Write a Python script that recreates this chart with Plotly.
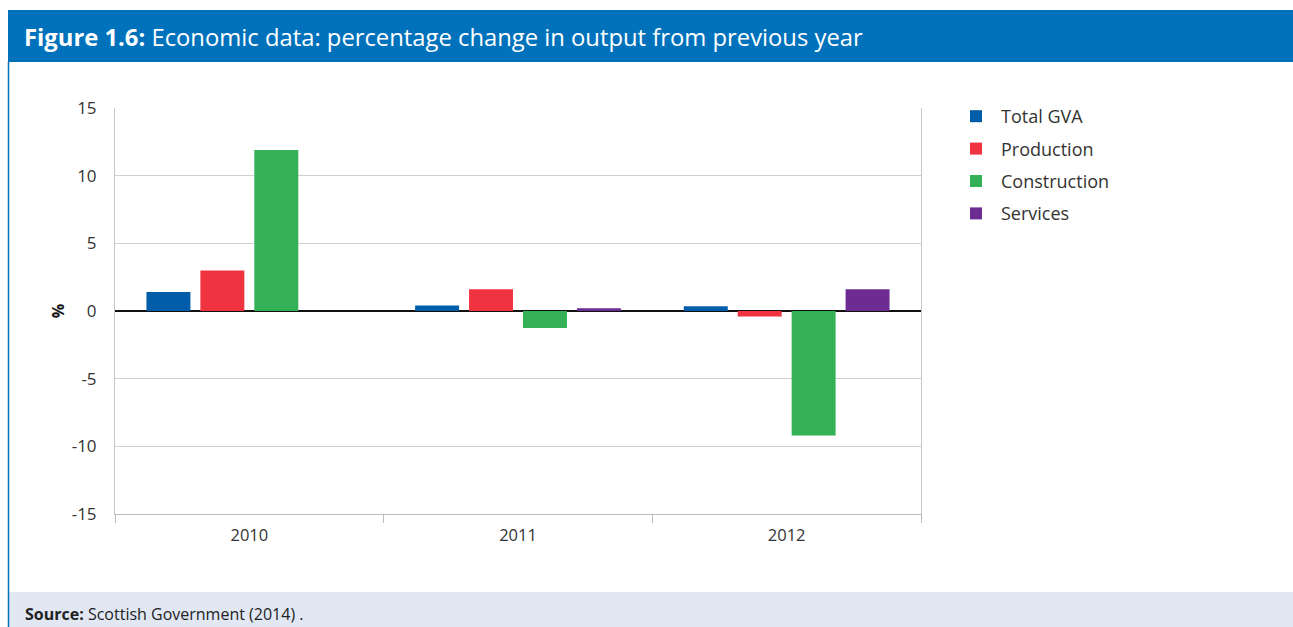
import plotly.graph_objects as go

years = ['2010', '2011', '2012']
series = ['Total GVA', 'Production', 'Construction', 'Services']
total_gva = [1.4, 0.4, 0.35]
production = [3.0, 1.6, -0.4]
construction = [11.9, -1.25, -9.2]
services = [None, 0.2, 1.6]
colours = ['#005DAA', '#EF3340', '#34B157', '#6C2C91']
y_ticks = [-15, -10, -5, 0, 5, 10, 15]
y_labels = ['-15', '-10', '-5', '0', '5', '10', '15']

W, H = 1293, 627
L, R, T, B = 115, 921, 108, 514


# pixel -> paper coords (so the frame can sit outside the plot area)
def px(x):
    return (x - L) / (R - L)


def py(y):
    return (B - y) / (B - T)


fig = go.Figure()
for name, vals, col in zip(series, [total_gva, production, construction, services], colours):
    fig.add_trace(go.Bar(x=years, y=vals, name=name, legendgroup=name,
                         marker=dict(color=col, line=dict(width=0))))

shapes = [
    # header band
    dict(type='rect', xref='paper', yref='paper', x0=px(8), x1=px(W), y0=py(62), y1=py(10),
         fillcolor='#0072BC', line=dict(width=0), layer='below'),
    # footer band
    dict(type='rect', xref='paper', yref='paper', x0=px(8), x1=px(W), y0=py(H), y1=py(592),
         fillcolor='#E1E8F4', line=dict(width=0), layer='below'),
    # left frame line
    dict(type='line', xref='paper', yref='paper', x0=px(8.5), x1=px(8.5), y0=py(H), y1=py(62),
         line=dict(color='#0072BC', width=1.5)),
]

annotations = [
    dict(xref='paper', yref='paper', x=px(22), y=py(37), xanchor='left', yanchor='middle',
         text='<b>Figure 1.6:</b> Economic data: percentage change in output from previous year',
         showarrow=False, font=dict(size=23.8, color='white', family='Open Sans')),
    dict(xref='paper', yref='paper', x=px(23), y=py(614), xanchor='left', yanchor='middle',
         text='<b>Source:</b> Scottish Government (2014) .',
         showarrow=False, font=dict(size=16, color='#222', family='Open Sans')),
]

fig.update_layout(
    width=W, height=H,
    margin=dict(l=L, r=W - R, t=T, b=H - B, pad=0),
    paper_bgcolor='white', plot_bgcolor='white',
    font=dict(family='Open Sans', color='#333'),
    barmode='group', bargap=0.197, bargroupgap=0.185,
    shapes=shapes, annotations=annotations,
    legend=dict(x=px(951), y=py(98), xanchor='left', yanchor='top',
                font=dict(size=18, color='#333'), tracegroupgap=6, itemwidth=40),
    showlegend=True,
)
fig.update_xaxes(type='category', tickson='boundaries', ticks='outside', ticklen=8,
                 tickcolor='#bbb', showline=True, linecolor='#bbb', linewidth=1,
                 ticklabelstandoff=6, tickfont=dict(size=16.5, color='#333'), showgrid=False)
fig.update_yaxes(range=[-15, 15], tickvals=y_ticks, ticktext=y_labels, showgrid=True,
                 gridcolor='#d0d0d0', showline=True, mirror=True, linecolor='#c8c8c8',
                 zeroline=True, zerolinecolor='#111', zerolinewidth=1.5, ticks='',
                 ticklabelstandoff=14, tickfont=dict(size=17, color='#333'),
                 title=dict(text='<b>%</b>', font=dict(size=16, color='#111'), standoff=3))

fig.write_html('out.html', config={'displayModeBar': False},
               post_script="document.body.style.margin='0';document.body.style.overflow='hidden';")
